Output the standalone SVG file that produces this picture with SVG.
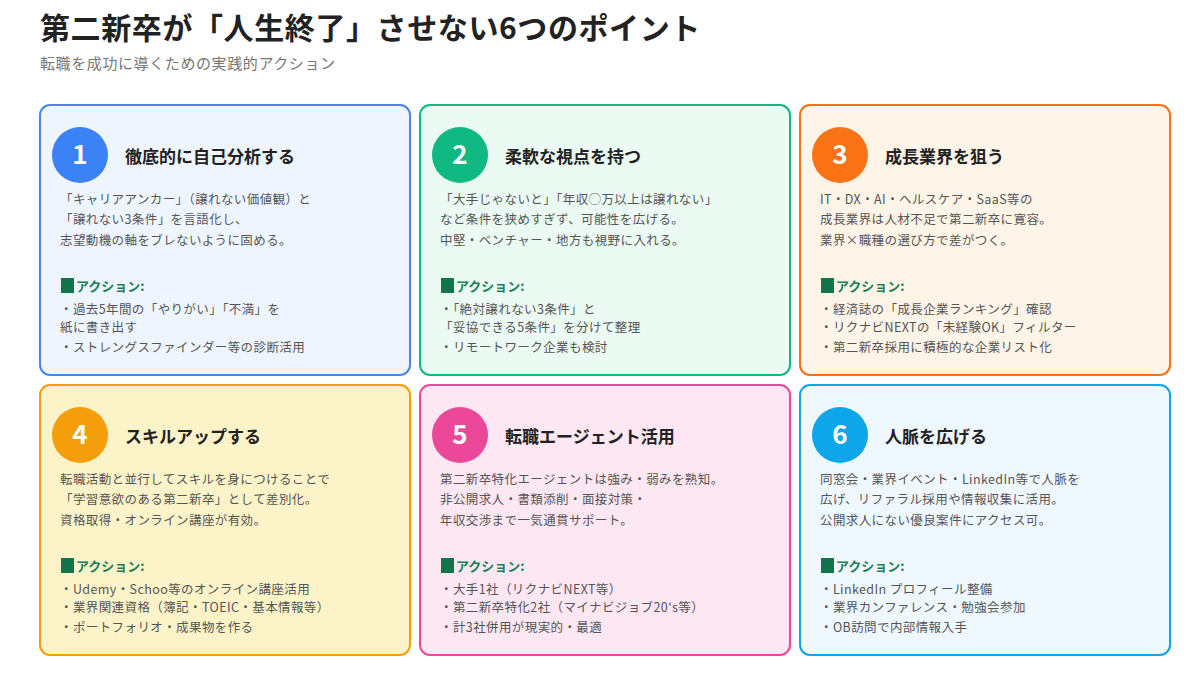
<svg xmlns="http://www.w3.org/2000/svg" width="1200" height="700" viewBox="0 0 1200 700">
<style>
text{font-family:"Noto Sans CJK JP","Noto Sans",sans-serif}
.title{font-size:30px;font-weight:700;fill:#222;letter-spacing:0.6px}
.sub{font-size:15px;fill:#777;letter-spacing:0.6px}
.card{stroke-width:2}
.num{font-size:26px;font-weight:700;fill:#fff;text-anchor:middle}
.h{font-size:17px;font-weight:700;fill:#222}
.b{font-size:12.5px;fill:#555;letter-spacing:0.4px}
.ah{font-size:13px;font-weight:700;fill:#1a7f5a}
.sq{fill:#13734a}
</style>
<rect width="1200" height="700" fill="#fff"/>
<text class="title" x="40" y="39">第二新卒が「人生終了」させない6つのポイント</text>
<text class="sub" x="40" y="69">転職を成功に導くための実践的アクション</text>

<g id="card1" transform="translate(40,105)">
<rect class="card" x="0" y="0" width="370" height="270" rx="10" fill="#eef5ff" stroke="#4a86e8"/>
<circle cx="40" cy="50" r="28" fill="#3b82f6"/><text class="num" x="40" y="59">1</text>
<text class="h" x="85" y="58">徹底的に自己分析する</text>
<text class="b" x="20" y="99">「キャリアアンカー」（譲れない価値観）と</text>
<text class="b" x="20" y="119">「譲れない3条件」を言語化し、</text>
<text class="b" x="20" y="140">志望動機の軸をブレないように固める。</text>
<rect class="sq" x="21" y="173" width="13" height="15"/><text class="ah" x="36" y="186">アクション:</text>
<text class="b" x="20" y="209">・過去5年間の「やりがい」「不満」を</text>
<text class="b" x="20" y="227">紙に書き出す</text>
<text class="b" x="20" y="247">・ストレングスファインダー等の診断活用</text>
</g>

<g id="card2" transform="translate(420,105)">
<rect class="card" x="0" y="0" width="370" height="270" rx="10" fill="#ebfaf3" stroke="#10b981"/>
<circle cx="40" cy="50" r="28" fill="#10b981"/><text class="num" x="40" y="59">2</text>
<text class="h" x="85" y="58">柔軟な視点を持つ</text>
<text class="b" x="20" y="99">「大手じゃないと」「年収◯万以上は譲れない」</text>
<text class="b" x="20" y="119">など条件を狭めすぎず、可能性を広げる。</text>
<text class="b" x="20" y="140">中堅・ベンチャー・地方も視野に入れる。</text>
<rect class="sq" x="21" y="173" width="13" height="15"/><text class="ah" x="36" y="186">アクション:</text>
<text class="b" x="20" y="209">・「絶対譲れない3条件」と</text>
<text class="b" x="20" y="227">「妥協できる5条件」を分けて整理</text>
<text class="b" x="20" y="247">・リモートワーク企業も検討</text>
</g>

<g id="card3" transform="translate(800,105)">
<rect class="card" x="0" y="0" width="370" height="270" rx="10" fill="#fff4e8" stroke="#f97316"/>
<circle cx="40" cy="50" r="28" fill="#f97316"/><text class="num" x="40" y="59">3</text>
<text class="h" x="85" y="58">成長業界を狙う</text>
<text class="b" x="20" y="99">IT・DX・AI・ヘルスケア・SaaS等の</text>
<text class="b" x="20" y="119">成長業界は人材不足で第二新卒に寛容。</text>
<text class="b" x="20" y="140">業界×職種の選び方で差がつく。</text>
<rect class="sq" x="21" y="173" width="13" height="15"/><text class="ah" x="36" y="186">アクション:</text>
<text class="b" x="20" y="209">・経済誌の「成長企業ランキング」確認</text>
<text class="b" x="20" y="227">・リクナビNEXTの「未経験OK」フィルター</text>
<text class="b" x="20" y="247">・第二新卒採用に積極的な企業リスト化</text>
</g>

<g id="card4" transform="translate(40,385)">
<rect class="card" x="0" y="0" width="370" height="270" rx="10" fill="#fdf3c8" stroke="#f59e0b"/>
<circle cx="40" cy="50" r="28" fill="#f59e0b"/><text class="num" x="40" y="59">4</text>
<text class="h" x="85" y="58">スキルアップする</text>
<text class="b" x="20" y="99">転職活動と並行してスキルを身につけることで</text>
<text class="b" x="20" y="119">「学習意欲のある第二新卒」として差別化。</text>
<text class="b" x="20" y="140">資格取得・オンライン講座が有効。</text>
<rect class="sq" x="21" y="173" width="13" height="15"/><text class="ah" x="36" y="186">アクション:</text>
<text class="b" x="20" y="209">・Udemy・Schoo等のオンライン講座活用</text>
<text class="b" x="20" y="227">・業界関連資格（簿記・TOEIC・基本情報等）</text>
<text class="b" x="20" y="247">・ポートフォリオ・成果物を作る</text>
</g>

<g id="card5" transform="translate(420,385)">
<rect class="card" x="0" y="0" width="370" height="270" rx="10" fill="#fce7f3" stroke="#ec4899"/>
<circle cx="40" cy="50" r="28" fill="#ec4899"/><text class="num" x="40" y="59">5</text>
<text class="h" x="85" y="58">転職エージェント活用</text>
<text class="b" x="20" y="99">第二新卒特化エージェントは強み・弱みを熟知。</text>
<text class="b" x="20" y="119">非公開求人・書類添削・面接対策・</text>
<text class="b" x="20" y="140">年収交渉まで一気通貫サポート。</text>
<rect class="sq" x="21" y="173" width="13" height="15"/><text class="ah" x="36" y="186">アクション:</text>
<text class="b" x="20" y="209">・大手1社（リクナビNEXT等）</text>
<text class="b" x="20" y="227">・第二新卒特化2社（マイナビジョブ20's等）</text>
<text class="b" x="20" y="247">・計3社併用が現実的・最適</text>
</g>

<g id="card6" transform="translate(800,385)">
<rect class="card" x="0" y="0" width="370" height="270" rx="10" fill="#f0f8ff" stroke="#0ea5e9"/>
<circle cx="40" cy="50" r="28" fill="#0ea5e9"/><text class="num" x="40" y="59">6</text>
<text class="h" x="85" y="58">人脈を広げる</text>
<text class="b" x="20" y="99">同窓会・業界イベント・LinkedIn等で人脈を</text>
<text class="b" x="20" y="119">広げ、リファラル採用や情報収集に活用。</text>
<text class="b" x="20" y="140">公開求人にない優良案件にアクセス可。</text>
<rect class="sq" x="21" y="173" width="13" height="15"/><text class="ah" x="36" y="186">アクション:</text>
<text class="b" x="20" y="209">・LinkedIn プロフィール整備</text>
<text class="b" x="20" y="227">・業界カンファレンス・勉強会参加</text>
<text class="b" x="20" y="247">・OB訪問で内部情報入手</text>
</g>
<g id="connectors"/>
</svg>
